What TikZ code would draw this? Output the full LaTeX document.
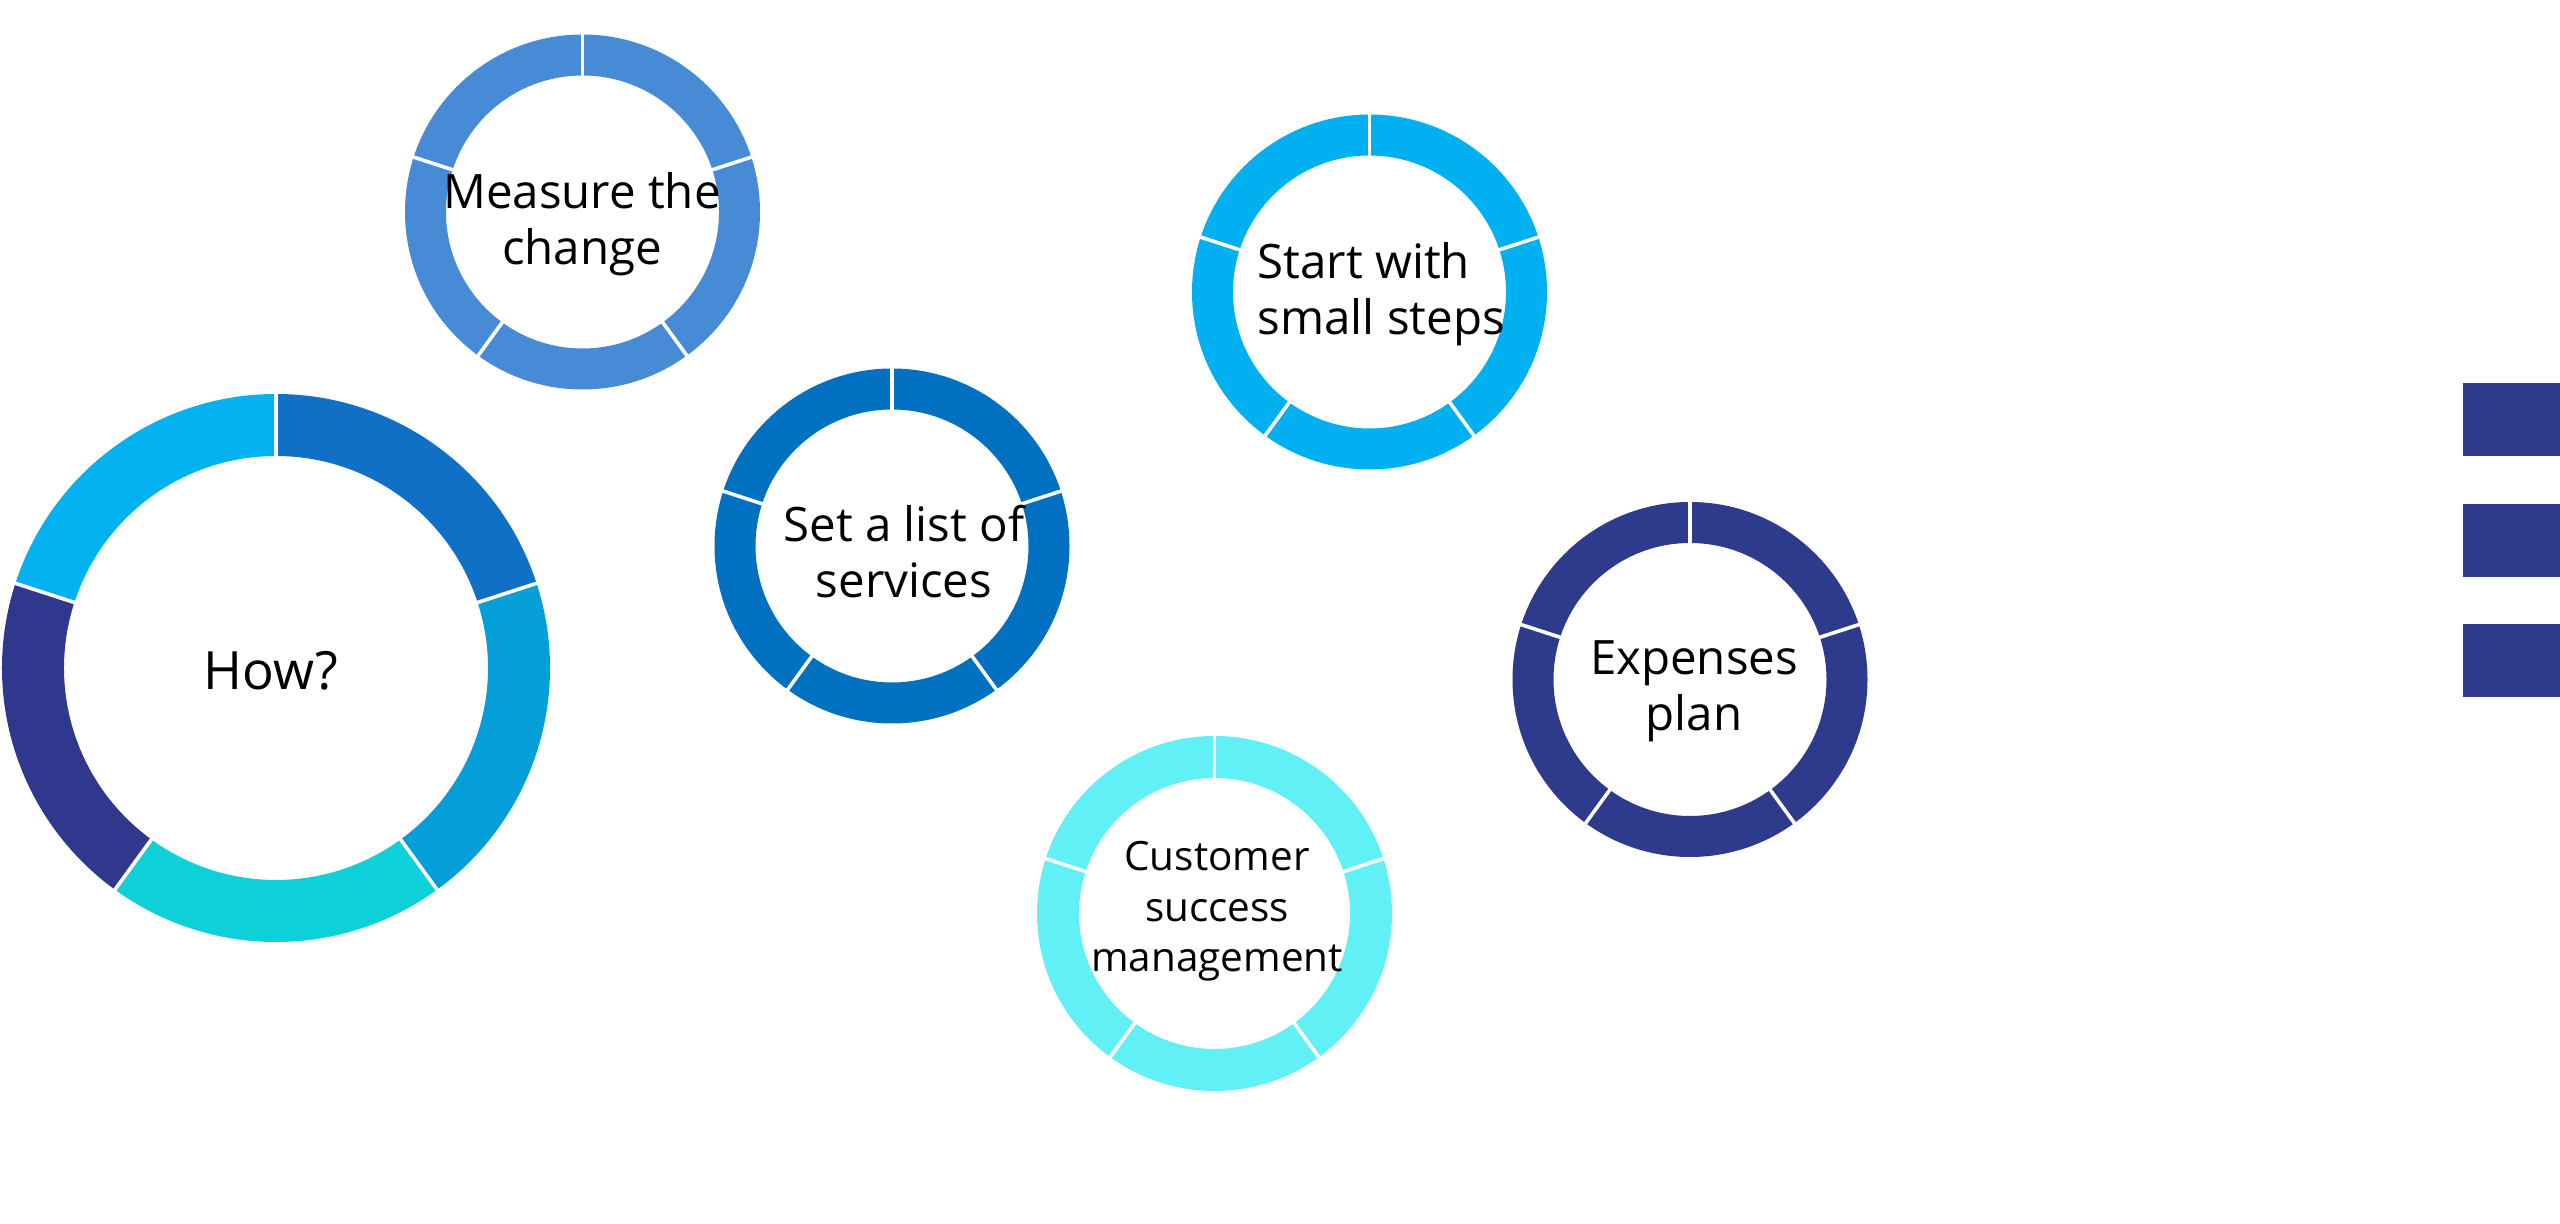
\documentclass[tikz,border=0pt]{standalone}
\usepackage{fontspec}
\setmainfont{Open Sans}
\usetikzlibrary{calc}
\definecolor{howA}{HTML}{1070C6}
\definecolor{howB}{HTML}{049FD9}
\definecolor{howC}{HTML}{0DD0D8}
\definecolor{howD}{HTML}{2F388C}
\definecolor{howE}{HTML}{02B1EF}
\definecolor{measureC}{HTML}{478BD6}
\definecolor{listC}{HTML}{0070C0}
\definecolor{startC}{HTML}{00B0F0}
\definecolor{custC}{HTML}{61F0F5}
\definecolor{expC}{HTML}{2E3A8C}
\newcommand\donutseg[6]{%
  \fill[#6] ($(#1)+(#4:#2)$) arc[start angle=#4, end angle=#5, radius=#2]
    -- ($(#1)+(#5:#3)$) arc[start angle=#5, end angle=#4, radius=#3] -- cycle;}
\newcommand\donutfull[4]{%
  \fill[#4, even odd rule] (#1) circle[radius=#2] (#1) circle[radius=#3];}
\newcommand\donutgaps[3]{%
  \foreach \a in {270,342,54,126,198}
    \draw[gapline] ($(#1)+(\a:{#3-4})$) -- ($(#1)+(\a:{#2+4})$);}
\tikzset{
  gapline/.style={white, line width=0.36mm},
  ringtext/.style={font=\fontsize{13.5}{16.2}\selectfont, align=center, text=black, inner sep=0pt},
  smalltext/.style={font=\fontsize{11.5}{14.5}\selectfont, align=center, text=black, inner sep=0pt},
  bigtext/.style={font=\fontsize{15}{18}\selectfont, text=black, inner sep=0pt},
  sq/.style={fill=expC, draw=none}
}
\begin{document}
\begin{tikzpicture}[x=0.1mm, y=-0.1mm]
\useasboundingbox[fill=white] (0,0) rectangle (2560,1224);
% centres
\coordinate (how) at (276,668);
\coordinate (meas) at (582.5,212);
\coordinate (list) at (892,546);
\coordinate (start) at (1369.5,292);
\coordinate (cust) at (1214.5,913.5);
\coordinate (exp) at (1690,679.5);
% How? ring
\donutseg{how}{274}{212}{270}{342}{howA}
\donutseg{how}{274}{212}{-18}{54}{howB}
\donutseg{how}{274}{212}{54}{126}{howC}
\donutseg{how}{274}{212}{126}{198}{howD}
\donutseg{how}{274}{212}{198}{270}{howE}
\donutgaps{how}{274}{212}
% small rings
\donutfull{meas}{177.5}{136.5}{measureC}
\donutgaps{meas}{177.5}{136.5}
\donutfull{list}{177.5}{136.5}{listC}
\donutgaps{list}{177.5}{136.5}
\donutfull{start}{177.5}{136.5}{startC}
\donutgaps{start}{177.5}{136.5}
\donutfull{cust}{177.5}{135.5}{custC}
\donutgaps{cust}{177.5}{135.5}
\donutfull{exp}{177.5}{136.5}{expC}
\donutgaps{exp}{177.5}{136.5}
% texts (base anchor = baseline of the last line)
\node[bigtext, anchor=base] (howt) at (271,690) {How?};
\node[ringtext, anchor=base] (meast) at (582,265) {Measure the\\change};
\node[ringtext, anchor=base] (listt) at (904,598) {Set a list of\\services};
\node[ringtext, anchor=base west, align=left] (startt) at (1257,335) {Start with\\small steps};
\node[smalltext, anchor=base] (custt) at (1217,972) {Customer\\success\\management};
\node[ringtext, anchor=base] (expt) at (1694,731) {Expenses\\plan};
% squares at the right edge
\fill[sq] (2463,383) rectangle (2560,456);
\fill[sq] (2463,504) rectangle (2560,577);
\fill[sq] (2463,624) rectangle (2560,697);
\end{tikzpicture}
\end{document}
